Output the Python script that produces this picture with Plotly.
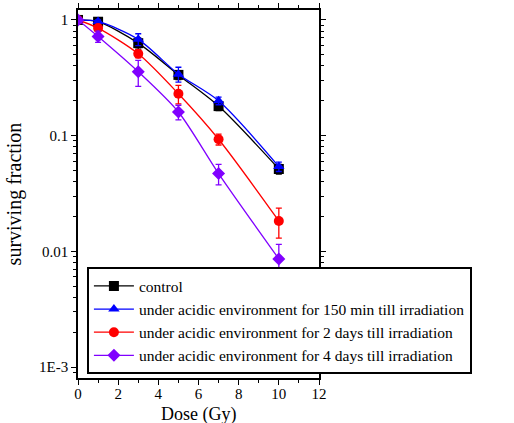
import plotly.graph_objects as go

dose = [0, 1, 3, 5, 7, 10]
names = ["control",
         "under acidic environment for 150 min till irradiation",
         "under acidic environment for 2 days till irradiation",
         "under acidic environment for 4 days till irradiation"]
control = [1.0, 0.965, 0.63, 0.335, 0.18, 0.0515]
control_err = [0.0, 0.03, 0.07, 0.03, 0.015, 0.005]
min150 = [1.0, 0.97, 0.68, 0.34, 0.20, 0.054]
min150_err = [0.0, 0.03, 0.08, 0.05, 0.015, 0.005]
days2 = [1.0, 0.85, 0.51, 0.23, 0.093, 0.0183]
days2_err = [0.0, 0.04, 0.04, 0.042, 0.01, 0.0053]
days4 = [1.0, 0.72, 0.357, 0.16, 0.047, 0.0086]
days4_err = [0.0, 0.08, 0.09, 0.023, 0.0095, 0.0029]

series = [control, min150, days2, days4]
errors = [control_err, min150_err, days2_err, days4_err]
colors = ["#000000", "#0000FF", "#FF0000", "#8000FF"]
symbols = ["square", "triangle-up", "circle", "diamond"]

yticks = [1e-3, 1e-2, 1e-1, 1]
yticktext = ["1E-3", "0.01", "0.1", "1"]

font = "Liberation Serif, Times New Roman, serif"
fig = go.Figure()
for name, vals, err, col, sym in zip(names, series, errors, colors, symbols):
    fig.add_trace(go.Scatter(
        x=dose, y=vals, name=name, mode="lines+markers",
        line=dict(color=col, width=1.3, shape="spline", smoothing=0.8),
        marker=dict(symbol=sym, size=10, color=col),
        error_y=dict(type="data", array=err, color=col, thickness=1.3, width=3),
    ))

axis_common = dict(showline=True, linecolor="black", linewidth=1.5, mirror="ticks",
                   ticks="outside", tickcolor="black", tickwidth=1.3, ticklen=5,
                   showgrid=False, zeroline=False, automargin=True,
                   tickfont=dict(family=font, size=15, color="black"))
fig.update_xaxes(range=[0, 12], tickvals=[0, 2, 4, 6, 8, 10, 12],
                 minor=dict(tickvals=[1, 3, 5, 7, 9, 11], ticks="outside", ticklen=3,
                            tickcolor="black", tickwidth=1.3),
                 ticklabelstandoff=-4,
                 **axis_common)
fig.update_yaxes(type="log", range=[-3.095, 0.086], tickvals=yticks, ticktext=yticktext,
                 minor=dict(dtick="D1", ticks="outside", ticklen=3,
                            tickcolor="black", tickwidth=1.3),
                 title=dict(text="surviving fraction", font=dict(family=font, size=20, color="black"), standoff=12),
                 **axis_common)
fig.add_annotation(text="Dose (Gy)", xref="paper", yref="paper", x=0.5, y=-0.1,
                   xanchor="center", yanchor="middle", showarrow=False,
                   font=dict(family=font, size=18, color="black"))
fig.update_layout(
    width=514, height=423,
    margin=dict(l=78, r=195, t=10, b=45, autoexpand=False),
    plot_bgcolor="white", paper_bgcolor="white",
    font=dict(family=font, color="black"),
    legend=dict(x=0.037, y=0.01, xanchor="left", yanchor="bottom",
                bgcolor="white", bordercolor="black", borderwidth=2,
                font=dict(family=font, size=15.5, color="black"),
                tracegroupgap=0, itemwidth=40),
)
fig.write_html("out.html", config={"displayModeBar": False},
               post_script="document.body.style.margin='0';document.body.style.overflow='hidden';")
